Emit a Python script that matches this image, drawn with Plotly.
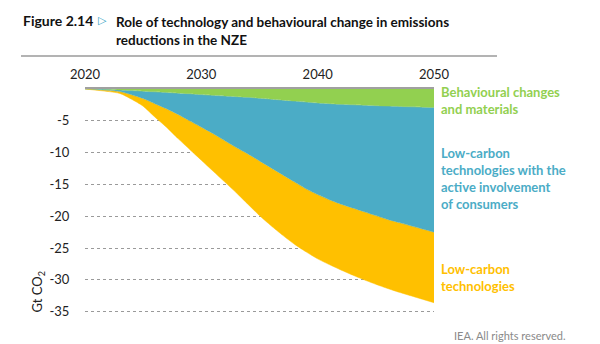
import plotly.graph_objects as go

years = list(range(2020, 2051))
behavioural = [0, -0.03, -0.07, -0.15, -0.25, -0.35, -0.45, -0.55, -0.65, -0.75,
               -0.88, -1.0, -1.1, -1.2, -1.3, -1.45, -1.6, -1.75, -1.9, -2.05,
               -2.2, -2.3, -2.4, -2.48, -2.55, -2.62, -2.68, -2.74, -2.8, -2.85, -2.9]
consumers = [0, -0.07, -0.13, -0.25, -0.65, -1.15, -1.85, -2.55, -3.35, -4.25,
             -5.12, -6.0, -7.0, -8.0, -8.9, -9.85, -10.8, -11.75, -12.7, -13.65,
             -14.4, -15.1, -15.7, -16.22, -16.75, -17.28, -17.82, -18.26, -18.7, -19.15, -19.6]
technologies = [0, -0.1, -0.2, -0.3, -0.7, -1.2, -2.1, -2.9, -3.8, -4.5,
                -5.2, -5.9, -6.5, -7.1, -7.9, -8.6, -9.1, -9.5, -9.8, -9.9,
                -10.1, -10.2, -10.35, -10.55, -10.7, -10.8, -10.85, -10.95, -11.0, -11.05, -11.1]

series_names = ["Behavioural changes<br>and materials",
                "Low-carbon<br>technologies with the<br>active involvement<br>of consumers",
                "Low-carbon<br>technologies"]
colors = ["#92d050", "#4bacc6", "#ffc000"]
x_ticks = [2020, 2030, 2040, 2050]
y_ticks = [-5, -10, -15, -20, -25, -30, -35]
y_ticktext = ["-5", "-10", "-15", "-20", "-25", "-30", "-35"]

W, H = 600, 344
L, R, T, B = 85, 166, 89, 26
FONT = "Lato"

def px(x):
    return (x - L) / (W - L - R)

def py(y):
    return (H - B - y) / (H - T - B)

fig = go.Figure()
for name, vals, col in zip(series_names, [behavioural, consumers, technologies], colors):
    fig.add_trace(go.Scatter(x=years, y=vals, stackgroup="one", mode="lines",
                             line=dict(width=0.5, color=col, shape="spline", smoothing=0.6),
                             fillcolor=col, name=name, hoverinfo="skip"))

label_y = [-1.8, -14.0, -29.6]
for name, col, ly in zip(series_names, colors, label_y):
    fig.add_annotation(x=px(439), xref="paper", y=ly, yref="y", text="<b>" + name + "</b>",
                       showarrow=False, xanchor="left", yanchor="middle", align="left",
                       font=dict(family=FONT, size=13, color=col))

fig.update_layout(
    width=W, height=H, margin=dict(l=L, r=R, t=T, b=B),
    paper_bgcolor="white", plot_bgcolor="white", showlegend=False,
    font=dict(family=FONT, size=12, color="#222"),
    xaxis=dict(range=[2020, 2050], side="top", tickvals=x_ticks, showgrid=False,
               showline=True, linecolor="#a0a0a0", linewidth=2, zeroline=False,
               ticks="outside", ticklen=3, tickcolor="rgba(0,0,0,0)",
               tickfont=dict(family=FONT, size=13, color="#222")),
    yaxis=dict(range=[-36, 0], tickvals=y_ticks, ticktext=y_ticktext, showgrid=True,
               gridcolor="#9a9a9a", griddash="dot", gridwidth=1, zeroline=False, showline=False,
               ticks="outside", ticklen=12, tickcolor="rgba(0,0,0,0)",
               tickfont=dict(family=FONT, size=13, color="#222")),
)

# title
fig.add_annotation(x=px(21), y=py(20), xref="paper", yref="paper", xanchor="left", yanchor="middle",
                   text="<b>Figure 2.14</b>", showarrow=False,
                   font=dict(family=FONT, size=14, color="#111"))
fig.add_annotation(x=px(96), y=py(20), xref="paper", yref="paper", xanchor="left", yanchor="middle",
                   text="▷", showarrow=False,
                   font=dict(family="DejaVu Sans", size=11, color="#2f9ec4"))
fig.add_annotation(x=px(114), y=py(31), xref="paper", yref="paper", xanchor="left", yanchor="middle",
                   text="<b>Role of technology and behavioural change in emissions<br>reductions in the NZE</b>",
                   showarrow=False, align="left",
                   font=dict(family=FONT, size=13.5, color="#111"))
fig.add_shape(type="line", xref="paper", yref="paper", x0=px(21), x1=px(497), y0=py(56), y1=py(56),
              line=dict(color="#9a9a9a", width=1.5))

# y-axis title
fig.add_annotation(x=px(38), y=-32, xref="paper", yref="y", textangle=-90,
                   text="Gt CO<sub>2</sub>", showarrow=False, xanchor="center", yanchor="middle",
                   font=dict(family=FONT, size=13, color="#222"))

# footer
fig.add_annotation(x=px(568), y=py(335), xref="paper", yref="paper", xanchor="right", yanchor="middle",
                   text="IEA. All rights reserved.", showarrow=False,
                   font=dict(family=FONT, size=11, color="#8a8a8a"))

fig.write_html("out.html")
